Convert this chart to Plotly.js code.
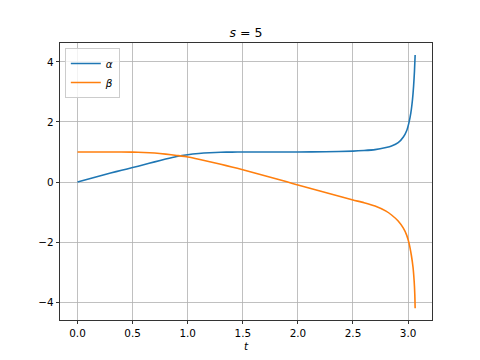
<!DOCTYPE html>
<html>
<head>
<meta charset="utf-8">
<script src="https://cdn.plot.ly/plotly-3.0.1.min.js"></script>
<style>html,body{margin:0;padding:0;background:#fff;}#chart{width:480px;height:360px;}</style>
</head>
<body>
<div id="chart"></div>
<script>
const tAlpha = [0, 0.1, 0.2, 0.3, 0.4, 0.5, 0.6, 0.7, 0.8, 0.9, 1.0, 1.1, 1.2, 1.3, 1.4, 1.5, 1.75, 2.0, 2.25, 2.5, 2.6, 2.7, 2.8, 2.85, 2.91, 2.957, 2.987, 3.008, 3.025, 3.04, 3.05, 3.058, 3.064];
const alpha = [0, 0.1, 0.2, 0.3, 0.39, 0.48, 0.575, 0.67, 0.765, 0.85, 0.91, 0.95, 0.975, 0.99, 0.997, 1.0, 1.0, 1.0, 1.01, 1.03, 1.05, 1.08, 1.15, 1.2, 1.31, 1.5, 1.71, 1.98, 2.3, 2.75, 3.2, 3.7, 4.23];
const tBeta = [0, 0.3, 0.5, 0.6, 0.7, 0.8, 0.9, 1.0, 1.1, 1.2, 1.3, 1.4, 1.5, 1.6, 1.7, 1.8, 1.9, 2.0, 2.1, 2.2, 2.3, 2.4, 2.5, 2.6, 2.7, 2.8, 2.85, 2.91, 2.957, 2.987, 3.008, 3.03, 3.045, 3.055, 3.061, 3.064];
const beta = [1.0, 1.0, 0.995, 0.985, 0.965, 0.93, 0.885, 0.835, 0.76, 0.675, 0.59, 0.5, 0.41, 0.31, 0.21, 0.11, 0.005, -0.1, -0.2, -0.3, -0.4, -0.5, -0.6, -0.69, -0.8, -0.97, -1.1, -1.3, -1.54, -1.77, -2.03, -2.45, -2.85, -3.3, -3.75, -4.21];
const xTicks = [0, 0.5, 1.0, 1.5, 2.0, 2.5, 3.0];
const yTicks = [-4, -2, 0, 2, 4];
const seriesNames = ['α', 'β'];
const titleText = '<i>s</i> = 5';
const xLabel = '<i>t</i>';

const FONT = 'DejaVu Sans, sans-serif';
const traces = [
  {x: tAlpha, y: alpha, name: '<i>' + seriesNames[0] + '</i>', mode: 'lines', line: {color: '#1f77b4', width: 1.6, shape: 'spline', smoothing: 0.6}},
  {x: tBeta, y: beta, name: '<i>' + seriesNames[1] + '</i>', mode: 'lines', line: {color: '#ff7f0e', width: 1.6, shape: 'spline', smoothing: 0.6}}
];
const axisCommon = {
  showline: true, mirror: true, linecolor: '#000', linewidth: 0.8,
  ticks: 'outside', ticklen: 3.5, tickwidth: 0.8, tickcolor: '#000',
  showgrid: true, gridcolor: '#b0b0b0', gridwidth: 0.8, zeroline: false,
  tickfont: {family: FONT, size: 10.4, color: '#000'}, automargin: false
};
const layout = {
  width: 480, height: 360,
  margin: {l: 60, r: 48, t: 43, b: 40},
  paper_bgcolor: '#fff', plot_bgcolor: '#fff',
  font: {family: FONT, color: '#000'},
  title: {text: titleText, font: {family: FONT, size: 12.5, color: '#000'}, x: 0.5125, xanchor: 'center', y: 0.91, yanchor: 'middle', xref: 'container', yref: 'container'},
  xaxis: Object.assign({}, axisCommon, {range: [-0.159, 3.217], tickvals: xTicks, ticktext: xTicks.map(v => v.toFixed(1)),
    title: {text: xLabel, font: {family: FONT, size: 10.4, color: '#000'}, standoff: 4}}),
  yaxis: Object.assign({}, axisCommon, {range: [-4.6, 4.633], tickvals: yTicks}),
  showlegend: true,
  legend: {x: 0.013, y: 0.982, xanchor: 'left', yanchor: 'top', bgcolor: 'rgba(255,255,255,0.8)', bordercolor: '#cccccc', borderwidth: 1,
    font: {family: FONT, size: 10.4, color: '#000'}, itemwidth: 30, tracegroupgap: 0}
};
Plotly.newPlot('chart', traces, layout, {displayModeBar: false, staticPlot: true});
</script>
</body>
</html>
